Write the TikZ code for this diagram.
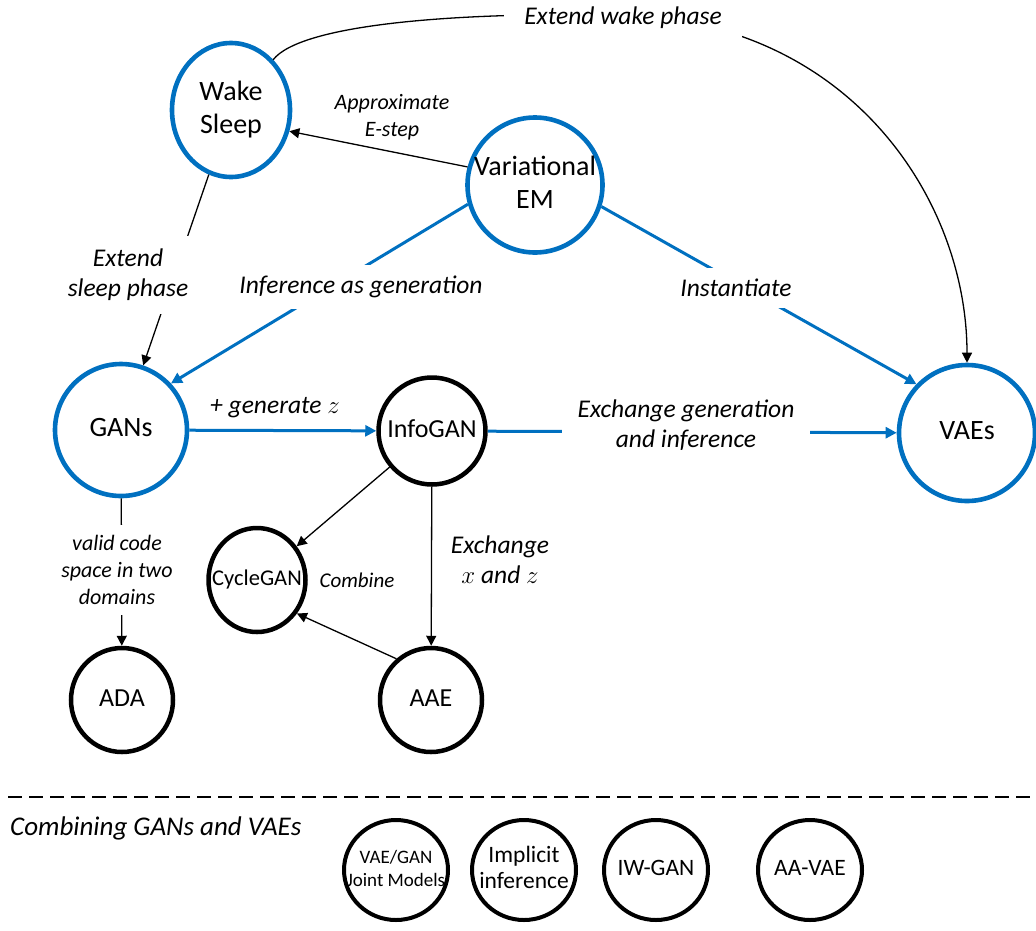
\documentclass[tikz,border=0pt]{standalone}
\usepackage{fontspec}
\setmainfont{Carlito}
\usetikzlibrary{arrows.meta,shapes.geometric}
\definecolor{nodeblue}{HTML}{0070C0}
\newcommand{\ctr}[1]{\makebox[0pt][c]{\begin{tabular}{@{}c@{}}#1\end{tabular}}}
\begin{document}
\begin{tikzpicture}[x=1pt,y=-1pt,
  bignode/.style={ellipse, draw=nodeblue, line width=4.6pt, inner sep=0pt, font=\fontsize{28}{33}\selectfont},
  blknode/.style={ellipse, draw=black, line width=4.5pt, inner sep=0pt, font=\fontsize{26}{30}\selectfont},
  smallnode/.style={ellipse, draw=black, line width=4pt, inner sep=0pt, minimum width=104pt, minimum height=100pt, font=\fontsize{23.5}{26}\selectfont},
  blkarrow/.style={line width=1.3pt, -{Triangle[length=10pt,width=10pt]}},
  blueline/.style={draw=nodeblue, line width=3pt, -{Triangle[length=11pt,width=11pt]}},
  lbl/.style={font=\itshape\fontsize{25.5}{30}\selectfont, align=center, fill=white, inner xsep=8pt, inner ysep=11pt},
  slbl/.style={font=\itshape\fontsize{22}{27}\selectfont, align=center, inner sep=2pt},
]
\useasboundingbox (0,0) rectangle (1036,930);

% main nodes
\node[bignode, minimum width=118pt, minimum height=134pt] (ws) at (231,110) {\ctr{Wake\\Sleep}};
\node[bignode, minimum width=135pt, minimum height=135pt] (vem) at (535,185) {\ctr{Variational\\EM}};
\node[bignode, minimum width=132pt, minimum height=132pt] (gans) at (121,430) {\ctr{GANs}};
\node[bignode, minimum width=136pt, minimum height=136pt] (vaes) at (967,433) {\ctr{VAEs}};
\node[blknode, minimum width=107pt, minimum height=107pt] (info) at (432,431) {\ctr{InfoGAN}};
\node[blknode, minimum width=97pt, minimum height=104pt, font=\fontsize{22.5}{26}\selectfont] (cycle) at (257,580) {\ctr{CycleGAN}};
\node[blknode, minimum width=102pt, minimum height=104pt] (ada) at (122,700) {\ctr{ADA}};
\node[blknode, minimum width=102pt, minimum height=104pt] (aae) at (431,700) {\ctr{AAE}};

% bottom nodes
\node[smallnode, font=\fontsize{19}{23}\selectfont] (vg) at (396,870) {\ctr{VAE/GAN\\Joint Models}};
\node[smallnode] (impl) at (524,870) {\ctr{Implicit\\inference}};
\node[smallnode] (iw) at (656,870) {\ctr{IW-GAN}};
\node[smallnode] (aavae) at (810,870) {\ctr{AA-VAE}};

% connectors
\draw[blkarrow] (vem.165) -- (ws.-20);
\draw[blkarrow] (ws) -- (gans);
\draw[blkarrow] (ws.50) .. controls (300,25) and (450,12) .. (620,15) .. controls (850,20) and (967,200) .. (vaes.north);
\draw[blueline] (vem.196) -- (gans.43);
\draw[blueline] (vem.-18) -- (vaes.136);
\draw[blueline] (gans) -- (info);
\draw[blueline] (info) -- (vaes);
\draw[blkarrow] (gans) -- (ada);
\draw[blkarrow] (info) -- (cycle);
\draw[blkarrow] (info) -- (aae);
\draw[blkarrow] (aae.130) -- (cycle.-40);

% labels
\node[lbl, inner xsep=20pt] (lwake) at (623,18) {Extend wake phase};
\node[slbl] (lapprox) at (392,117) {Approximate\\E-step};
\node[lbl, inner ysep=13pt] (lsleep) at (128,275) {Extend\\sleep phase};
\node[lbl] (linf) at (361,287) {Inference as generation};
\node[lbl] (linst) at (736,288) {Instantiate};
\node[lbl, fill=none] (lgen) at (275,408) {+ generate $z$};
\node[lbl, inner xsep=16pt] (lexch) at (686,425) {Exchange generation\\and inference};
\node[slbl, fill=white, inner ysep=10pt] (lvalid) at (117,570) {valid code\\space in two\\domains};
\node[lbl, fill=none] (lxz) at (500,560) {Exchange\\$x$ and $z$};
\node[slbl, font=\itshape\fontsize{21}{25}\selectfont] (lcomb) at (357,580) {Combine};

% separator and legend
\draw[line width=1.3pt, dash pattern=on 14pt off 7pt] (8,797) -- (1036,797);
\node[font=\itshape\fontsize{27}{30}\selectfont, anchor=west, inner sep=0pt] (lcgv) at (10,828) {Combining GANs and VAEs};
\end{tikzpicture}
\end{document}
